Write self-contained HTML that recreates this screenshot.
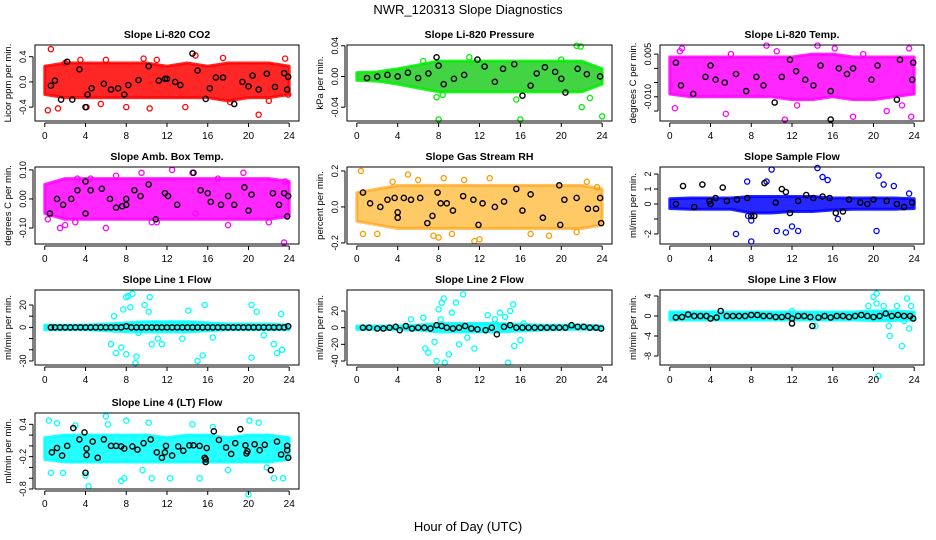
<!DOCTYPE html>
<html><head><meta charset="utf-8"><style>
body{margin:0;background:#fff}
svg{display:block;font-family:"Liberation Sans",sans-serif}
</style></head><body>
<svg id="c" width="936" height="540">
<text x="468" y="14" text-anchor="middle" font-size="13">NWR_120313  Slope Diagnostics</text>
<text x="468" y="531" text-anchor="middle" font-size="13">Hour of Day (UTC)</text>
</svg>
<script>
const bandHours=[0,2,4,6,8,10,12,14,16,18,20,22,24];
const xTicks=[0,4,8,12,16,20,24];
// P1 CO2
const p1Lo=[-0.2,-0.25,-0.25,-0.25,-0.25,-0.25,-0.25,-0.25,-0.25,-0.3,-0.25,-0.25,-0.2];
const p1Hi=[0.25,0.3,0.3,0.3,0.3,0.3,0.25,0.3,0.25,0.3,0.3,0.3,0.25];
const p1Out=[[0.3,-0.45],[0.6,0.52],[1.3,-0.42],[2,0.3],[3.5,0.35],[4.1,-0.4],[5.5,-0.35],[8,-0.4],[9.7,0.37],[10.3,-0.42],[13.8,-0.4],[14.8,0.42],[17.5,0.38],[18.2,-0.32],[21,-0.52],[22,-0.3],[23.6,0.37],[23.9,-0.2],[11,0.35],[6,0.35]];
const p1Blk=[[0.6,-0.06],[1,0.02],[1.6,-0.28],[2.2,0.32],[2.7,-0.28],[3.4,0.2],[4,-0.4],[4.2,-0.2],[4.6,-0.1],[5.8,-0.03],[6.5,-0.12],[7.2,-0.1],[7.8,-0.2],[8.2,-0.05],[9.2,0.03],[10.2,0.25],[11.2,0.02],[11.8,0.05],[12,0.05],[12.8,0],[13.3,-0.05],[14.5,0.45],[15,0.18],[15.8,-0.27],[16.2,-0.1],[16.8,0.07],[17.5,0.07],[18.6,-0.35],[19.4,0],[20,-0.07],[20.4,0.1],[21,-0.12],[21.8,0.13],[22.6,-0.08],[23.5,0.14],[23.8,-0.12],[23.9,0.08]];
// P2 Pressure
const p2Lo=[-0.005,-0.006,-0.01,-0.015,-0.02,-0.02,-0.02,-0.02,-0.02,-0.02,-0.02,-0.02,-0.01];
const p2Hi=[0.005,0.006,0.01,0.015,0.02,0.02,0.02,0.02,0.02,0.02,0.02,0.02,0.01];
const p2Out=[[7.8,-0.027],[8,-0.056],[8.4,-0.024],[15.6,-0.03],[16,-0.056],[21.5,0.04],[21.9,0.039],[22,-0.04],[22.8,-0.028],[24,-0.052],[6.5,0.02],[11,0.025],[20,0.022]];
const p2Blk=[[1,-0.002],[2,0],[3,0.002],[4,0],[5,0.005],[6,-0.002],[7,0.004],[7.8,0.025],[8,0.014],[8.5,-0.01],[9.5,-0.003],[10.5,0.002],[11.8,0.022],[12.5,0.013],[13.5,-0.007],[14.3,0.01],[15.4,0.016],[16.2,-0.025],[17,-0.012],[17.6,0.004],[18.4,0.012],[19.4,0.006],[20,-0.003],[20.4,-0.021],[21.6,0.01],[22.5,0.003],[23.8,0]];
// P3 Li-820 Temp
const p3Lo=[-0.009,-0.01,-0.01,-0.01,-0.01,-0.01,-0.011,-0.011,-0.01,-0.011,-0.011,-0.01,-0.009];
const p3Hi=[0.004,0.004,0.004,0.004,0.004,0.004,0.004,0.005,0.005,0.004,0.004,0.004,0.004];
const p3Out=[[0.5,-0.014],[1,0.006],[1.2,0.007],[5.5,-0.016],[6,0.005],[9.5,0.008],[10.5,0.006],[11.3,-0.018],[12.5,-0.013],[14.5,0.008],[16.2,0.007],[18,-0.017],[21.3,-0.015],[22.8,-0.013],[23.5,0.007],[23.7,-0.017],[19,0.005]];
const p3Blk=[[0.6,0.002],[1.1,-0.006],[2.3,-0.009],[3.5,-0.003],[4,0.001],[4.5,-0.004],[5.4,-0.005],[6.5,-0.002],[7.5,-0.008],[8.5,-0.003],[9.2,-0.006],[10.3,-0.012],[11,-0.003],[11.8,0.003],[12.4,-0.001],[13.3,-0.004],[14.1,-0.006],[14.8,0.001],[15.8,-0.018],[15.8,-0.008],[16.6,0],[17.4,-0.002],[18,0],[19.8,-0.004],[20.4,0.001],[22.3,-0.011],[22.6,0.003],[23.8,-0.004],[23.9,0.002]];
// P4 Amb box temp
const p4Lo=[-0.05,-0.07,-0.07,-0.07,-0.07,-0.07,-0.07,-0.07,-0.07,-0.07,-0.07,-0.07,-0.06];
const p4Hi=[0.05,0.07,0.07,0.07,0.07,0.07,0.07,0.07,0.07,0.07,0.07,0.07,0.06];
const p4Out=[[0.3,-0.07],[1.5,-0.1],[2,-0.09],[3,-0.08],[3.2,0.07],[4.5,0.07],[6,-0.1],[7,0.08],[9.5,0.09],[10.5,-0.08],[11,-0.08],[12.5,0.1],[14.5,0.09],[14.8,-0.05],[17,0.07],[18,-0.09],[19.5,0.09],[22,-0.08],[23.5,-0.15],[23.6,0.06]];
const p4Blk=[[0.5,-0.05],[1.2,0],[1.8,-0.02],[2.6,0],[3.2,0.03],[4,0.06],[4,-0.05],[4.5,0.03],[5.6,0.035],[6.4,0],[7,-0.03],[7.6,-0.025],[8,0],[8,-0.02],[8.8,0.03],[9.4,0.01],[10.2,0.05],[10.9,-0.07],[11.8,0.02],[12.1,0.01],[13,-0.02],[14.6,0.09],[15.3,0.03],[16,0.02],[16.3,-0.01],[17.3,-0.02],[18,0.01],[18.6,-0.02],[19.6,0.04],[20,-0.04],[20.3,0.015],[22.4,0.02],[23,-0.02],[23.5,0.02],[23.8,-0.06],[23.9,0.01]];
// P5 RH
const p5Lo=[-0.08,-0.1,-0.12,-0.12,-0.12,-0.12,-0.12,-0.12,-0.12,-0.12,-0.12,-0.12,-0.1];
const p5Hi=[0.08,0.1,0.12,0.12,0.12,0.12,0.12,0.12,0.12,0.12,0.12,0.12,0.1];
const p5Out=[[0.4,0.2],[0.6,-0.15],[2,-0.15],[3.5,0.14],[5,0.18],[6,0.15],[7.5,-0.16],[8,-0.17],[8.5,0.16],[9.3,-0.15],[10.5,0.15],[11.5,-0.19],[12,-0.18],[13,0.16],[17,-0.15],[18.8,-0.16],[21.5,-0.14],[22.5,0.14],[23.5,0.11]];
const p5Blk=[[0.6,0.08],[1.3,0.02],[2.3,0],[3,0.04],[3.7,0.05],[4,-0.03],[4,-0.06],[4.6,0.05],[5.3,0.04],[6.2,0.05],[6.9,-0.09],[7.4,-0.05],[7.9,0.08],[8.2,0.02],[8.8,0.02],[9.4,-0.02],[10.4,0.06],[11.4,0.04],[11.9,-0.1],[12.3,0.02],[13.5,0],[14.4,0.03],[15.6,0.1],[16.2,-0.02],[17,0.07],[18.2,-0.06],[19.8,0.12],[19.9,-0.1],[20.3,0.04],[21.5,0.05],[22.6,-0.01],[23.4,-0.01],[23.8,0.05],[23.9,-0.09]];
// P6 Sample flow
const p6Lo=[-0.3,-0.35,-0.35,-0.35,-0.6,-0.6,-0.5,-0.5,-0.4,-0.35,-0.35,-0.35,-0.3];
const p6Hi=[0.35,0.4,0.4,0.4,0.5,0.5,0.5,0.5,0.4,0.4,0.4,0.4,0.35];
const p6Out=[[6.5,-2],[8,-2.5],[7.7,-0.8],[8,-1.1],[7.6,1.5],[9.5,1.5],[10,2.3],[10.5,-1.8],[11.4,-1.9],[12,-1.5],[12.6,-1.8],[14.5,2.4],[15,1.8],[15.5,1.6],[20.3,-1.8],[20.5,1.9],[21,1.3],[22,1.2],[16.5,-1],[23.5,0.7]];
const p6Blk=[[0.6,0],[1.3,1.2],[2.4,-0.2],[3.2,1.3],[3.9,0.2],[4,0],[4.5,0.4],[5.2,1.1],[5.6,0.2],[6.6,0.3],[7.6,0.4],[8,-0.8],[8.3,-0.8],[9.3,1.4],[10.4,0.1],[11,1],[11.4,0.8],[11.8,-0.6],[12.6,0.2],[13.4,0.6],[14.1,0.4],[15,0.5],[15.7,0.4],[16.3,-0.6],[17,-0.5],[17.6,0.3],[18.7,0.1],[19.4,0],[20,0.3],[21.3,0.2],[22.3,0],[23,-0.2],[23.8,0.1]];
// P7 Line 1
const p7Lo=[-2,-2,-2,-3,-4,-4,-4,-4,-3,-2,-2,-2,-2];
const p7Hi=[2,2,2,3,4,5,5,5,4,3,3,3,2];
const p7Out=[[6.5,-15],[7,-23],[7.5,-18],[8,-24],[8,27],[8.2,28],[8.6,30],[8.9,-32],[9,-26],[7.7,16],[8.4,18],[9.8,20],[10.3,27],[10.5,-15],[11.1,-10],[11.5,-15],[14.1,15],[15,-30],[15.5,-25],[15.7,20],[20.3,-27],[20.3,20],[20.8,14],[22.5,-15],[22.8,-23],[23.3,-20],[23.2,12],[21.5,-7],[10.2,14],[9.2,-5],[6.8,10],[13.5,-10],[16.5,-9]];
const p7Blk=[[0.6,0],[1,0],[1.5,0],[2,0],[2.5,0],[3,0],[3.5,0],[4,0],[4.5,0],[5,0],[5.5,0],[6,0],[6.5,0],[7,0],[7.5,0],[8,1],[8.5,0],[9,0],[9.5,0],[10,0],[10.5,0],[11,0],[11.5,0],[12,0],[12.5,0],[13,0],[13.5,0],[14,0],[14.5,0],[15,0],[15.5,0],[16,0],[16.5,0],[17,0],[17.5,0],[18,0],[18.5,0],[19,0],[19.5,0],[20,0],[20.5,0],[21,0],[21.5,0],[22,0],[22.5,0],[23,0],[23.5,0],[23.9,1]];
// P8 Line 2
const p8Lo=[-2,-2,-2,-3,-5,-5,-5,-5,-4,-3,-2,-2,-2];
const p8Hi=[2,2,2,3,5,5,5,5,4,3,3,3,2];
const p8Out=[[6.7,-25],[7,-30],[7.6,-17],[7.8,-40],[8,22],[8.3,30],[8.5,35],[8.6,-42],[8.2,10],[9,-32],[9.3,18],[9.7,30],[10,-20],[10.4,40],[10.8,-12],[11.5,-25],[12.8,15],[13.5,10],[14,18],[14.5,13],[14.8,-42],[15,20],[15.3,28],[15.4,-22],[16,-15],[5.3,10],[6.5,12],[16.3,5]];
const p8Blk=[[0.6,0],[1.2,0],[2,-1],[2.6,-1],[3.2,0],[3.8,1],[4.2,-3],[4.8,2],[5.4,-1],[6,0],[6.6,0],[7.2,-1],[7.8,3],[8.3,2],[8.8,0],[9.4,-1],[10,0],[10.6,2],[11.2,-1],[11.8,-2],[12.6,-3],[13.2,0],[13.7,-8],[14.4,1],[15,3],[15.6,0],[16.2,0],[16.8,0],[17.4,0],[18,0],[18.6,0],[19.2,0],[19.8,0],[20.4,0],[21,3],[21.6,1],[22.2,1],[22.8,0],[23.4,0],[23.9,-1]];
// P9 Line 3
const p9Lo=[-0.8,-0.8,-0.8,-0.8,-0.8,-0.8,-0.8,-0.8,-0.8,-0.8,-0.9,-0.9,-0.8];
const p9Hi=[0.8,0.8,0.8,0.8,0.8,0.8,0.8,0.8,0.8,0.8,1,1,0.8];
const p9Out=[[19.5,2],[20,3.8],[20.3,4.5],[20.5,-12],[20.3,2.5],[21,2],[21.5,-2],[21.6,-4],[22.3,2],[22.8,-6],[23,-1],[23.3,3.5],[23.5,-2.5],[23.7,2],[14.3,-2],[12,1],[5,1]];
const p9Blk=[[0.6,-0.3],[1.2,-0.2],[1.8,0.3],[2.4,0],[3,0],[3.6,0],[4,-0.5],[4.6,-0.3],[5,1],[5.6,0],[6.2,0],[6.8,0],[7.4,0],[8,0.2],[8.6,0.2],[9.2,0],[9.8,0],[10.4,-0.2],[11,-0.2],[11.6,0],[12,-0.5],[12,-1.5],[12.6,0],[13.2,0],[13.8,-0.2],[14,-2],[14.6,-0.3],[15.2,0],[15.8,-0.3],[16.4,0],[17,0],[17.6,-0.2],[18.2,0],[18.8,0.2],[19.4,0],[20,-0.2],[20.6,0],[21.2,0.5],[21.8,0],[22.4,0.2],[23,0],[23.6,0],[23.9,-0.5]];
// P10 Line 4
const p10Lo=[-0.25,-0.3,-0.3,-0.3,-0.3,-0.3,-0.3,-0.3,-0.3,-0.3,-0.3,-0.3,-0.25];
const p10Hi=[0.15,0.2,0.2,0.2,0.2,0.2,0.15,0.2,0.2,0.15,0.2,0.2,0.15];
const p10Out=[[0.4,0.47],[0.6,-0.5],[1.2,0.42],[1.8,-0.5],[3,0.38],[4,-0.55],[4.3,-0.75],[6,0.55],[6.2,0.4],[7.5,-0.65],[8,0.47],[7.8,-0.6],[10.2,0.43],[10.5,-0.6],[12.3,-0.6],[14.5,0.4],[15.2,-0.6],[16.5,0.35],[18,-0.45],[20,-0.9],[20.1,0.47],[21,0.43],[22.5,-0.6],[23.4,-0.6],[21.8,-0.4],[9.6,-0.45]];
const p10Blk=[[0.7,-0.12],[1.2,-0.04],[1.7,-0.18],[2.2,0],[2.8,0.33],[3.4,0.12],[3.9,0.25],[4.1,-0.17],[4,-0.5],[4.1,-0.05],[4.7,0.08],[5.2,-0.22],[5.8,0.12],[6.5,0],[7,0],[7.5,-0.01],[7.8,-0.05],[8.6,-0.01],[9.1,-0.07],[9.7,0.05],[10.4,0.12],[11,-0.12],[11.5,-0.22],[11.8,-0.12],[11.9,0],[12.5,-0.18],[13.1,-0.01],[13.6,-0.09],[14.2,0.01],[14.6,0.01],[15.2,0],[15.7,-0.22],[15.8,-0.25],[15.8,-0.3],[15.9,-0.04],[16.6,0.27],[17.1,0.11],[17.8,-0.03],[18.3,-0.15],[18.7,0.05],[19.2,0.31],[19.7,0.01],[19.8,-0.14],[19.9,-0.1],[20.6,0.03],[21.1,-0.08],[21.6,0.02],[22.2,-0.45],[22.8,0.08],[23.2,-0.16],[23.8,0],[23.9,-0.22],[23.8,-0.08]];

const panels=[
 {name:'co2',title:'Slope Li-820 CO2',yt:'Licor ppm per min.',col:'#ff0000',band:'#ff0000',op:0.85,x0:35,x1:299,y0:45,y1:121,ymin:-0.62,ymax:0.586,ticks:[-0.4,0,0.4],labs:['-0.4','0.0','0.4'],lo:p1Lo,hi:p1Hi,out:p1Out,blk:p1Blk},
 {name:'pressure',title:'Slope Li-820 Pressure',yt:'kPa per min.',col:'#00ee00',band:'#22cc22',op:0.85,x0:347,x1:612,y0:45,y1:121,ymin:-0.058,ymax:0.041,ticks:[-0.04,0,0.04],labs:['-0.04','0.00','0.04'],lo:p2Lo,hi:p2Hi,out:p2Out,blk:p2Blk},
 {name:'li820-temp',title:'Slope Li-820 Temp.',yt:'degrees C per min.',col:'#ff00ff',band:'#ff00ff',op:0.85,x0:660,x1:924,y0:45,y1:121,ymin:-0.0185,ymax:0.0082,ticks:[-0.015,-0.01,-0.005,0,0.005],labs:['','-0.010','','','0.005'],lo:p3Lo,hi:p3Hi,out:p3Out,blk:p3Blk},
 {name:'amb-box-temp',title:'Slope Amb. Box Temp.',yt:'degrees C per min.',col:'#ff00ff',band:'#ff00ff',op:0.85,x0:35,x1:299,y0:167,y1:244,ymin:-0.155,ymax:0.11,ticks:[-0.1,0,0.1],labs:['-0.10','0.00','0.10'],lo:p4Lo,hi:p4Hi,out:p4Out,blk:p4Blk},
 {name:'gas-stream-rh',title:'Slope Gas Stream RH',yt:'percent per min.',col:'#ff9900',band:'#ffa500',op:0.6,x0:347,x1:612,y0:167,y1:244,ymin:-0.206,ymax:0.222,ticks:[-0.2,0,0.2],labs:['-0.2','0.0','0.2'],lo:p5Lo,hi:p5Hi,out:p5Out,blk:p5Blk},
 {name:'sample-flow',title:'Slope Sample Flow',yt:'ml/min per min.',col:'#0000ff',band:'#0000ff',op:0.85,x0:660,x1:924,y0:167,y1:244,ymin:-2.67,ymax:2.47,ticks:[-2,-1,0,1,2],labs:['-2','','0','1','2'],lo:p6Lo,hi:p6Hi,out:p6Out,blk:p6Blk},
 {name:'line1-flow',title:'Slope Line 1 Flow',yt:'ml/min per min.',col:'#00ffff',band:'#00ffff',op:0.85,x0:35,x1:299,y0:290,y1:365,ymin:-33.6,ymax:33.4,ticks:[-30,-20,-10,0,10,20],labs:['-30','','','0','','20'],lo:p7Lo,hi:p7Hi,out:p7Out,blk:p7Blk},
 {name:'line2-flow',title:'Slope Line 2 Flow',yt:'ml/min per min.',col:'#00ffff',band:'#00ffff',op:0.85,x0:347,x1:612,y0:290,y1:365,ymin:-44.8,ymax:45.2,ticks:[-40,-20,0,20],labs:['-40','-20','0','20'],lo:p8Lo,hi:p8Hi,out:p8Out,blk:p8Blk},
 {name:'line3-flow',title:'Slope Line 3 Flow',yt:'ml/min per min.',col:'#00ffff',band:'#00ffff',op:0.85,x0:660,x1:924,y0:290,y1:365,ymin:-9.8,ymax:5.2,ticks:[-8,-4,0,4],labs:['-8','-4','0','4'],lo:p9Lo,hi:p9Hi,out:p9Out,blk:p9Blk},
 {name:'line4-flow',title:'Slope Line 4 (LT) Flow',yt:'ml/min per min.',col:'#00ffff',band:'#00ffff',op:0.85,x0:35,x1:299,y0:413,y1:489,ymin:-0.8,ymax:0.61,ticks:[-0.8,-0.6,-0.4,-0.2,0,0.2,0.4],labs:['-0.8','','','-0.2','','','0.4'],lo:p10Lo,hi:p10Hi,out:p10Out,blk:p10Blk}
];
const NS='http://www.w3.org/2000/svg';
const svg=document.getElementById('c');
function mk(tag,attrs,parent){const e=document.createElementNS(NS,tag);for(const k in attrs)e.setAttribute(k,attrs[k]);(parent||svg).appendChild(e);return e;}
panels.forEach(p=>{
 const g=mk('g',{});
 
 
 const xs=h=>p.x0+(h+0.96)/25.92*(p.x1-p.x0);
 const ys=v=>p.y1-(v-p.ymin)/(p.ymax-p.ymin)*(p.y1-p.y0);
 const t=mk('text',{x:(p.x0+p.x1)/2,y:p.y0-7,'text-anchor':'middle','font-size':10.5,'font-weight':'bold'},g);
 t.textContent=p.title;
 
 
 let pts=bandHours.map((h,i)=>xs(h)+','+ys(p.hi[i]));
 pts=pts.concat(bandHours.slice().reverse().map((h,i)=>xs(h)+','+ys(p.lo[bandHours.length-1-i])));
 const b=mk('polygon',{points:pts.join(' '),fill:p.band,'fill-opacity':p.op,stroke:p.col,'stroke-opacity':p.op,'stroke-width':3,'stroke-linejoin':'round'},g);
 
 
 p.out.forEach(d=>{
  const c=mk('circle',{cx:xs(d[0]),cy:ys(d[1]),r:2.6,fill:'none',stroke:p.col,'stroke-width':1.3},g);
  
  
 });
 p.blk.forEach(d=>{
  const c=mk('circle',{cx:xs(d[0]),cy:ys(d[1]),r:2.6,fill:'none',stroke:'#000','stroke-width':1.4},g);
  
  
 });
 const r=mk('rect',{x:p.x0,y:p.y0,width:p.x1-p.x0,height:p.y1-p.y0,fill:'none',stroke:'#000','stroke-width':1},g);
 
 
 xTicks.forEach(h=>{
  mk('line',{x1:xs(h),x2:xs(h),y1:p.y1+2,y2:p.y1+6,stroke:'#000'},g);
  const l=mk('text',{x:xs(h),y:p.y1+18,'text-anchor':'middle','font-size':10},g);
  l.textContent=h;
  
  
 });
 mk('line',{x1:xs(0),x2:xs(24),y1:p.y1+2,y2:p.y1+2,stroke:'#000'},g);
 p.ticks.forEach((v,i)=>{
  mk('line',{x1:p.x0-2,x2:p.x0-6,y1:ys(v),y2:ys(v),stroke:'#000'},g);
  if(p.labs[i]){
   const X=p.x0-9,Y=ys(v);
   const l=mk('text',{x:X,y:Y,'text-anchor':'middle','font-size':9,transform:`rotate(-90 ${X} ${Y})`},g);
   l.textContent=p.labs[i];
   
   
  }
 });
 mk('line',{x1:p.x0-2,x2:p.x0-2,y1:ys(p.ticks[0]),y2:ys(p.ticks[p.ticks.length-1]),stroke:'#000'},g);
 const X=p.x0-24,Y=(p.y0+p.y1)/2;
 const yt=mk('text',{x:X,y:Y,'text-anchor':'middle','font-size':9.5,transform:`rotate(-90 ${X} ${Y})`},g);
 yt.textContent=p.yt;
 
 
});
</script>
</body></html>
